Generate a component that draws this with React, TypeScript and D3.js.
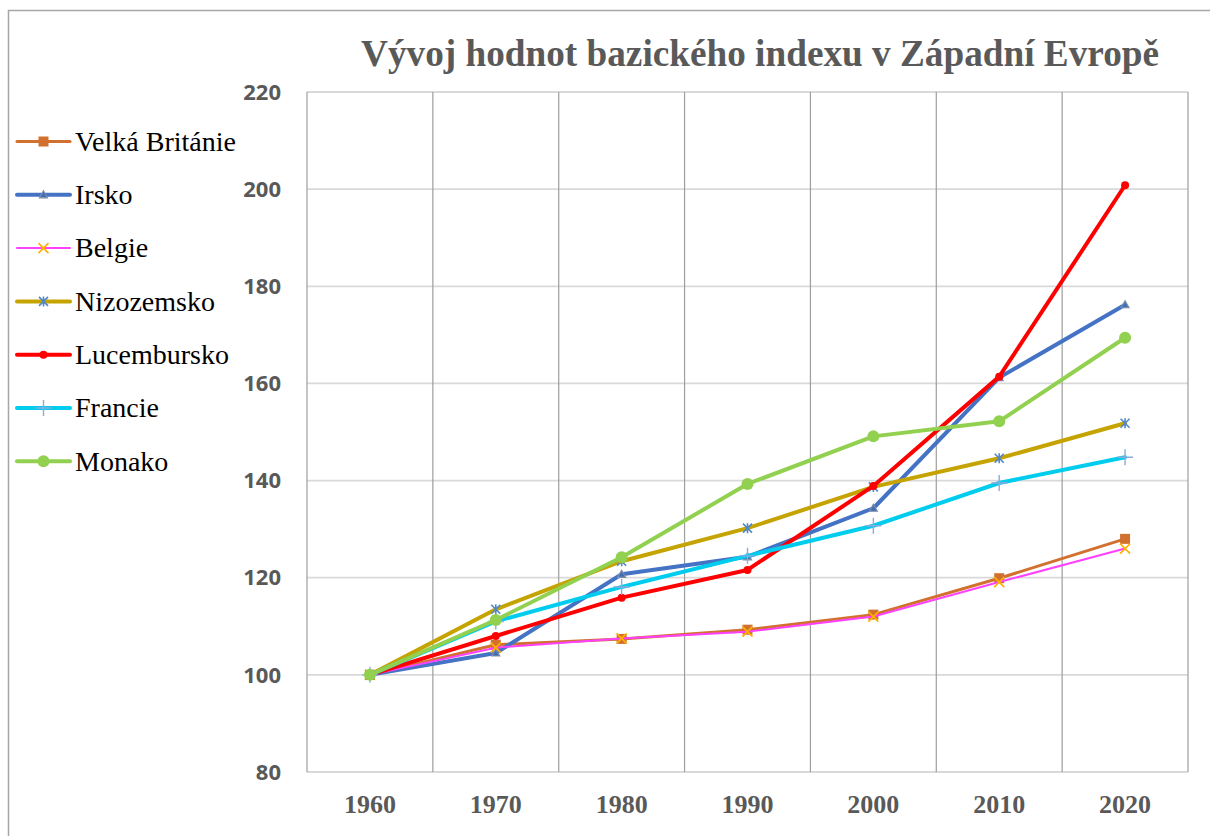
import React from 'react';
import * as d3 from 'd3';

// Years on the x axis (categories)
const years = ['1960', '1970', '1980', '1990', '2000', '2010', '2020'];

// Base index values per country
const velkaBritanie = [100, 106.2, 107.4, 109.3, 112.4, 119.9, 128.0];
const irsko = [100, 104.5, 120.7, 124.3, 134.3, 161.2, 176.2];
const belgie = [100, 105.6, 107.5, 108.9, 112.0, 119.1, 126.0];
const nizozemsko = [100, 113.5, 123.4, 130.2, 138.7, 144.6, 151.8];
const lucembursko = [100, 108.0, 115.9, 121.6, 138.9, 161.4, 200.8];
const francie = [100, 111.0, 118.1, 124.5, 130.7, 139.5, 144.8];
const monako = [100, 111.3, 124.2, 139.3, 149.1, 152.2, 169.4];

const yTicks = [80, 100, 120, 140, 160, 180, 200, 220];

type Marker = 'square' | 'triangle' | 'x' | 'star' | 'dot' | 'plus' | 'circle';

const series: { name: string; values: number[]; color: string; width: number; marker: Marker; markerColor: string }[] = [
  { name: 'Velká Británie', values: velkaBritanie, color: '#D2702F', width: 3, marker: 'square', markerColor: '#D2702F' },
  { name: 'Irsko', values: irsko, color: '#4472C4', width: 4, marker: 'triangle', markerColor: '#7F8FA9' },
  { name: 'Belgie', values: belgie, color: '#FF40FF', width: 2, marker: 'x', markerColor: '#FFB000' },
  { name: 'Nizozemsko', values: nizozemsko, color: '#C5A300', width: 4, marker: 'star', markerColor: '#4F87C9' },
  { name: 'Lucembursko', values: lucembursko, color: '#FF0000', width: 4, marker: 'dot', markerColor: '#FF0000' },
  { name: 'Francie', values: francie, color: '#00CCEE', width: 4, marker: 'plus', markerColor: '#8EA9DB' },
  { name: 'Monako', values: monako, color: '#92D050', width: 4, marker: 'circle', markerColor: '#92D050' },
];

const SERIF = "'Liberation Serif', 'Times New Roman', serif";

const drawMarker = (m: Marker, color: string, x: number, y: number, key: string) => {
  switch (m) {
    case 'square':
      return <rect key={key} x={x - 5} y={y - 5} width={10} height={10} fill={color} />;
    case 'triangle':
      return <path key={key} d={`M${x},${y - 4}L${x + 4},${y + 3}L${x - 4},${y + 3}Z`} fill="#3F6DB8" stroke={color} strokeWidth={1.2} />;
    case 'x':
      return <path key={key} d={`M${x - 5},${y - 5}L${x + 5},${y + 5}M${x - 5},${y + 5}L${x + 5},${y - 5}`} stroke={color} strokeWidth={1.6} />;
    case 'star':
      return <path key={key} d={`M${x - 4.5},${y - 4.5}L${x + 4.5},${y + 4.5}M${x - 4.5},${y + 4.5}L${x + 4.5},${y - 4.5}M${x},${y - 5}L${x},${y + 5}`} stroke={color} strokeWidth={1.6} />;
    case 'dot':
      return <circle key={key} cx={x} cy={y} r={4} fill={color} />;
    case 'plus':
      return <path key={key} d={`M${x - 8},${y}L${x + 8},${y}M${x},${y - 8}L${x},${y + 8}`} stroke={color} strokeWidth={1.4} />;
    case 'circle':
      return <circle key={key} cx={x} cy={y} r={6} fill={color} />;
  }
};

const App = () => {
  const width = 1210;
  const height = 836;
  const plot = { left: 307, right: 1188, top: 92, bottom: 772 };

  // Scales
  const x = d3.scaleBand<string>().domain(years).range([plot.left, plot.right]).padding(0);
  const y = d3.scaleLinear().domain([80, 220]).range([plot.bottom, plot.top]);
  const cx = (yr: string) => (x(yr) as number) + x.bandwidth() / 2;

  const line = d3
    .line<number>()
    .x((_, i) => cx(years[i]))
    .y((d) => y(d));

  const bounds = years.map((yr) => x(yr) as number).concat([plot.right]);

  return (
    <svg width={width} height={height} style={{ position: 'absolute', left: 0, top: 0 }}>
      <rect x={0} y={0} width={width} height={height} fill="#fff" />
      {/* outer frame */}
      <rect x={8.5} y={10.5} width={1220} height={840} fill="none" stroke="#A6A6A6" strokeWidth={1.5} />

      {/* title */}
      <text
        x={760}
        y={66}
        textAnchor="middle"
        fontFamily={SERIF}
        fontWeight="bold"
        fontSize={38}
        fill="#595959"
        textLength={798}
        lengthAdjust="spacingAndGlyphs"
      >
        Vývoj hodnot bazického indexu v Západní Evropě
      </text>

      {/* horizontal gridlines */}
      {yTicks.map((t) => (
        <line key={'h' + t} x1={plot.left} x2={plot.right} y1={y(t)} y2={y(t)} stroke="#D9D9D9" strokeWidth={1.8} />
      ))}
      {/* vertical gridlines */}
      {bounds.map((b, i) => (
        <line key={'v' + i} x1={b} x2={b} y1={plot.top} y2={plot.bottom} stroke="#9E9E9E" strokeWidth={1.2} />
      ))}

      {/* y tick labels */}
      {yTicks.map((t) => (
        <text
          key={'yl' + t}
          x={281}
          y={y(t)}
          dy="0.35em"
          textAnchor="end"
          fontFamily="'Open Sans', sans-serif"
          fontWeight="bold"
          fontSize={22}
          fill="#595959"
        >
          {t}
        </text>
      ))}

      {/* x tick labels */}
      {years.map((yr) => (
        <text
          key={'xl' + yr}
          x={cx(yr)}
          y={813}
          textAnchor="middle"
          fontFamily={SERIF}
          fontWeight="bold"
          fontSize={26}
          fill="#595959"
        >
          {yr}
        </text>
      ))}

      {/* series */}
      {series.map((s) => (
        <g key={s.name}>
          <path d={line(s.values) || ''} fill="none" stroke={s.color} strokeWidth={s.width} strokeLinejoin="round" strokeLinecap="round" />
          {s.values.map((v, i) => drawMarker(s.marker, s.markerColor, cx(years[i]), y(v), s.name + i))}
        </g>
      ))}

      {/* legend */}
      {series.map((s, i) => {
        const ly = 141.5 + i * 53.3;
        return (
          <g key={'lg' + s.name}>
            <line x1={17} x2={70} y1={ly} y2={ly} stroke={s.color} strokeWidth={s.width} strokeLinecap="round" />
            {drawMarker(s.marker, s.markerColor, 43.5, ly, 'lm' + i)}
            <text x={75} y={ly} dy="0.33em" fontFamily={SERIF} fontSize={28} fill="#000">
              {s.name}
            </text>
          </g>
        );
      })}
    </svg>
  );
};

export default App;
